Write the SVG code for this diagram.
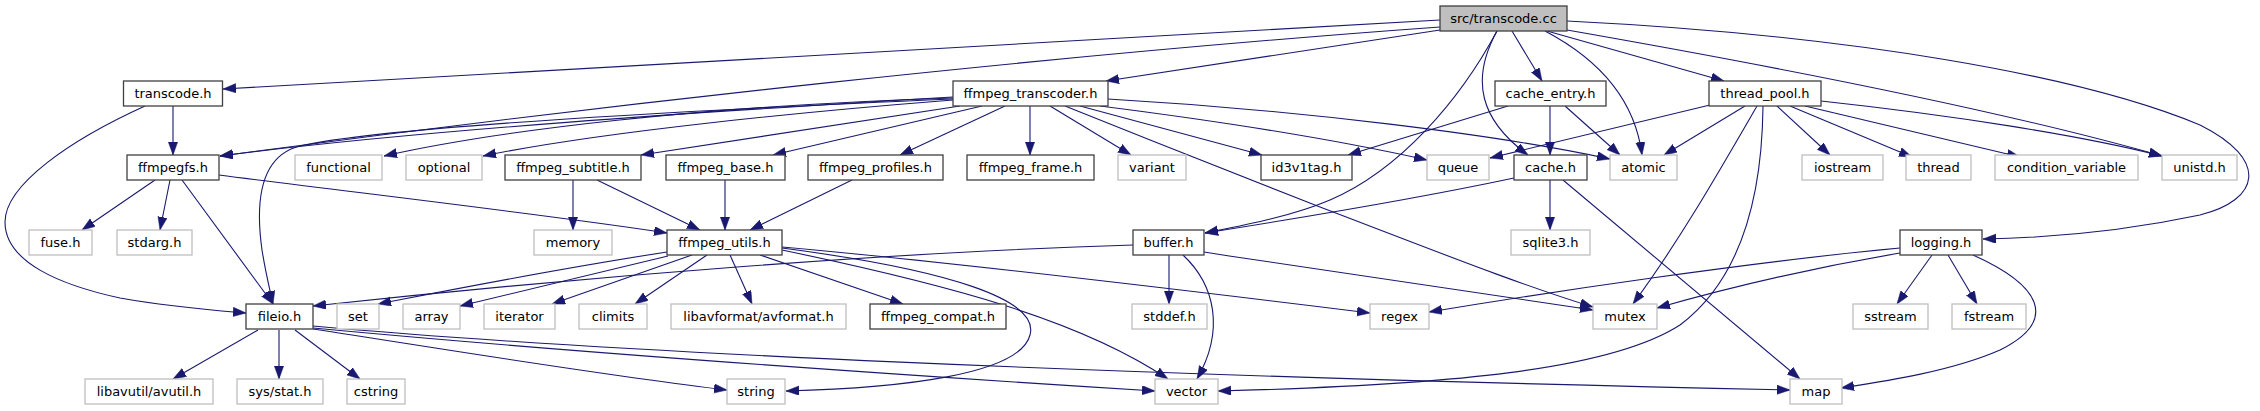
<svg xmlns="http://www.w3.org/2000/svg" width="2260" height="411" viewBox="0 0 2260 411">
<style>
.n rect{fill:#fff;stroke:#404040;stroke-width:1.3}
.x rect{fill:#fff;stroke:#bfbfbf;stroke-width:1.3}
.r rect{fill:#bfbfbf;stroke:#404040;stroke-width:1.3}
text{font-family:"DejaVu Sans","Liberation Sans",sans-serif;font-size:13px;fill:#000;text-anchor:middle}
#edges path{fill:none;stroke:#191970;stroke-width:1.1;marker-end:url(#ah)}
</style>
<defs>
<marker id="ah" markerUnits="userSpaceOnUse" markerWidth="13" markerHeight="10" refX="13" refY="4.65" orient="auto">
<path d="M0,0 L13,4.65 L0,9.3 z" fill="#191970" stroke="#191970" stroke-width="0.5"/>
</marker>
</defs>
<rect width="2260" height="411" fill="#fff"/>
<g id="edges">
<path d="M1440,20 L223,89"/>
<path d="M1440,27 C1050,55 600,105 220,156"/>
<path d="M1440,30 L1106,81"/>
<path d="M1512,31 L1542,81"/>
<path d="M1497,31 C1470,80 1480,120 1528,155"/>
<path d="M1545,31 C1600,60 1635,100 1642,155"/>
<path d="M1547,31 L1724,81"/>
<path d="M1567,30 C1750,62 2000,110 2162,156"/>
<path d="M1567,21 C1850,35 2080,75 2200,125 C2270,160 2260,200 2200,215 C2120,232 2040,238 1983,239"/>
<path d="M1497,31 C1460,100 1400,170 1330,200 C1290,217 1240,226 1205,233"/>
<path d="M953,97 C700,112 420,130 220,156"/>
<path d="M953,99 C650,112 380,128 300,146 C260,156 255,200 262,250 C266,275 270,290 273,304"/>
<path d="M953,98 C700,106 500,130 384,156"/>
<path d="M953,100 C800,112 600,132 483,156"/>
<path d="M960,106 L641,155"/>
<path d="M982,106 L773,155"/>
<path d="M1005,106 L900,155"/>
<path d="M1030,106 L1030,155"/>
<path d="M1050,106 L1131,155"/>
<path d="M1080,106 L1262,155"/>
<path d="M1100,106 C1250,125 1360,145 1427,160"/>
<path d="M1108,99 C1300,110 1500,135 1610,159"/>
<path d="M1065,106 C1150,140 1250,180 1320,207 C1420,245 1520,285 1593,307"/>
<path d="M1508,106 L1348,155"/>
<path d="M1550,106 L1550,155"/>
<path d="M1565,106 L1620,155"/>
<path d="M1710,105 L1490,158"/>
<path d="M1745,106 L1664,155"/>
<path d="M1757,106 C1720,170 1680,240 1633,304"/>
<path d="M1763,106 C1762,200 1740,280 1680,325 C1610,370 1450,385 1218,391"/>
<path d="M1777,106 L1830,155"/>
<path d="M1790,106 L1912,157"/>
<path d="M1805,106 L2020,157"/>
<path d="M1821,101 C1950,115 2080,135 2162,156"/>
<path d="M1550,180 L1550,230"/>
<path d="M1563,180 L1800,379"/>
<path d="M1514,178 C1420,198 1300,218 1205,233"/>
<path d="M1900,248 C1750,262 1550,292 1429,312"/>
<path d="M1900,253 C1800,270 1720,290 1657,308"/>
<path d="M1932,255 L1897,304"/>
<path d="M1948,255 L1977,304"/>
<path d="M1973,255 C2040,285 2060,320 2000,350 C1950,372 1880,382 1841,388"/>
<path d="M1133,245 C900,252 600,275 313,306"/>
<path d="M1169,255 L1169,304"/>
<path d="M1183,255 C1215,285 1225,330 1197,379"/>
<path d="M1204,252 C1350,275 1500,295 1593,310"/>
<path d="M667,252 C550,270 450,290 378,304"/>
<path d="M668,256 L460,306"/>
<path d="M692,255 L552,304"/>
<path d="M707,255 L635,304"/>
<path d="M730,255 L752,304"/>
<path d="M760,255 L903,304"/>
<path d="M782,247 C950,262 1200,292 1370,313"/>
<path d="M782,248 C950,270 1040,300 1030,335 C1020,375 900,388 786,391"/>
<path d="M782,250 C950,285 1080,320 1168,379"/>
<path d="M155,180 L82,230"/>
<path d="M170,180 L160,230"/>
<path d="M182,180 L273,304"/>
<path d="M219,175 C350,192 550,215 667,233"/>
<path d="M573,180 L573,230"/>
<path d="M597,180 L700,230"/>
<path d="M725,180 L725,230"/>
<path d="M852,180 L750,230"/>
<path d="M173,106 L173,155"/>
<path d="M145,106 C70,140 5,185 5,222 C5,262 60,285 120,298 C170,307 210,310 246,313"/>
<path d="M258,330 L173,379"/>
<path d="M279,330 L279,379"/>
<path d="M295,330 L360,379"/>
<path d="M313,329 C450,350 600,375 727,390"/>
<path d="M313,328 C600,355 900,375 1155,391"/>
<path d="M313,326 C600,352 1100,375 1790,390"/>
</g>
<g id="n_root" class="r"><rect x="1440" y="6" width="127" height="25"/><text x="1503.5" y="23">src/transcode.cc</text></g>
<g id="n_transcode_h" class="n"><rect x="123.5" y="81" width="99" height="25"/><text x="173" y="98">transcode.h</text></g>
<g id="n_ffmpeg_transcoder_h" class="n"><rect x="953" y="81" width="155" height="25"/><text x="1030.5" y="98">ffmpeg_transcoder.h</text></g>
<g id="n_cache_entry_h" class="n"><rect x="1495" y="81" width="111" height="25"/><text x="1550.5" y="98">cache_entry.h</text></g>
<g id="n_thread_pool_h" class="n"><rect x="1709" y="81" width="112" height="25"/><text x="1765" y="98">thread_pool.h</text></g>
<g id="n_ffmpegfs_h" class="n"><rect x="127" y="155" width="92" height="25"/><text x="173" y="172">ffmpegfs.h</text></g>
<g id="n_functional" class="x"><rect x="295" y="155" width="87" height="25"/><text x="338.5" y="172">functional</text></g>
<g id="n_optional" class="x"><rect x="406" y="155" width="76" height="25"/><text x="444" y="172">optional</text></g>
<g id="n_ffmpeg_subtitle_h" class="n"><rect x="505" y="155" width="136" height="25"/><text x="573" y="172">ffmpeg_subtitle.h</text></g>
<g id="n_ffmpeg_base_h" class="n"><rect x="666" y="155" width="119" height="25"/><text x="725.5" y="172">ffmpeg_base.h</text></g>
<g id="n_ffmpeg_profiles_h" class="n"><rect x="808" y="155" width="135" height="25"/><text x="875.5" y="172">ffmpeg_profiles.h</text></g>
<g id="n_ffmpeg_frame_h" class="n"><rect x="967" y="155" width="127" height="25"/><text x="1030.5" y="172">ffmpeg_frame.h</text></g>
<g id="n_variant" class="x"><rect x="1118" y="155" width="68" height="25"/><text x="1152" y="172">variant</text></g>
<g id="n_id3v1tag_h" class="n"><rect x="1261" y="155" width="91" height="25"/><text x="1306.5" y="172">id3v1tag.h</text></g>
<g id="n_queue" class="x"><rect x="1427" y="155" width="62" height="25"/><text x="1458" y="172">queue</text></g>
<g id="n_cache_h" class="n"><rect x="1514" y="155" width="73" height="25"/><text x="1550.5" y="172">cache.h</text></g>
<g id="n_atomic" class="x"><rect x="1610" y="155" width="67" height="25"/><text x="1643.5" y="172">atomic</text></g>
<g id="n_iostream" class="x"><rect x="1802" y="155" width="81" height="25"/><text x="1842.5" y="172">iostream</text></g>
<g id="n_thread" class="x"><rect x="1906" y="155" width="65" height="25"/><text x="1938.5" y="172">thread</text></g>
<g id="n_condition_variable" class="x"><rect x="1995" y="155" width="143" height="25"/><text x="2066.5" y="172">condition_variable</text></g>
<g id="n_unistd_h" class="x"><rect x="2162" y="155" width="75" height="25"/><text x="2199.5" y="172">unistd.h</text></g>
<g id="n_fuse_h" class="x"><rect x="29" y="230" width="63" height="25"/><text x="60.5" y="247">fuse.h</text></g>
<g id="n_stdarg_h" class="x"><rect x="117" y="230" width="75" height="25"/><text x="154.5" y="247">stdarg.h</text></g>
<g id="n_memory" class="x"><rect x="534" y="230" width="78" height="25"/><text x="573" y="247">memory</text></g>
<g id="n_ffmpeg_utils_h" class="n"><rect x="667" y="230" width="115" height="25"/><text x="724.5" y="247">ffmpeg_utils.h</text></g>
<g id="n_buffer_h" class="n"><rect x="1133" y="230" width="71" height="25"/><text x="1168.5" y="247">buffer.h</text></g>
<g id="n_sqlite3_h" class="x"><rect x="1511" y="230" width="79" height="25"/><text x="1550.5" y="247">sqlite3.h</text></g>
<g id="n_logging_h" class="n"><rect x="1900" y="230" width="82" height="25"/><text x="1941" y="247">logging.h</text></g>
<g id="n_fileio_h" class="n"><rect x="246" y="304" width="67" height="25"/><text x="279.5" y="321">fileio.h</text></g>
<g id="n_set" class="x"><rect x="337" y="304" width="42" height="25"/><text x="358" y="321">set</text></g>
<g id="n_array" class="x"><rect x="403" y="304" width="57" height="25"/><text x="431.5" y="321">array</text></g>
<g id="n_iterator" class="x"><rect x="484" y="304" width="71" height="25"/><text x="519.5" y="321">iterator</text></g>
<g id="n_climits" class="x"><rect x="579" y="304" width="68" height="25"/><text x="613" y="321">climits</text></g>
<g id="n_avformat" class="x"><rect x="671" y="304" width="175" height="25"/><text x="758.5" y="321">libavformat/avformat.h</text></g>
<g id="n_ffmpeg_compat_h" class="n"><rect x="870" y="304" width="136" height="25"/><text x="938" y="321">ffmpeg_compat.h</text></g>
<g id="n_stddef_h" class="x"><rect x="1132" y="304" width="75" height="25"/><text x="1169.5" y="321">stddef.h</text></g>
<g id="n_regex" class="x"><rect x="1370" y="304" width="59" height="25"/><text x="1399.5" y="321">regex</text></g>
<g id="n_mutex" class="x"><rect x="1593" y="304" width="64" height="25"/><text x="1625" y="321">mutex</text></g>
<g id="n_sstream" class="x"><rect x="1853" y="304" width="75" height="25"/><text x="1890.5" y="321">sstream</text></g>
<g id="n_fstream" class="x"><rect x="1952" y="304" width="74" height="25"/><text x="1989" y="321">fstream</text></g>
<g id="n_avutil" class="x"><rect x="85" y="379" width="128" height="25"/><text x="149" y="396">libavutil/avutil.h</text></g>
<g id="n_sys_stat_h" class="x"><rect x="237" y="379" width="86" height="25"/><text x="280" y="396">sys/stat.h</text></g>
<g id="n_cstring" class="x"><rect x="347" y="379" width="58" height="25"/><text x="376" y="396">cstring</text></g>
<g id="n_string" class="x"><rect x="727" y="379" width="58" height="25"/><text x="756" y="396">string</text></g>
<g id="n_vector" class="x"><rect x="1155" y="379" width="63" height="25"/><text x="1186.5" y="396">vector</text></g>
<g id="n_map" class="x"><rect x="1790" y="379" width="52" height="25"/><text x="1816" y="396">map</text></g>
</svg>
